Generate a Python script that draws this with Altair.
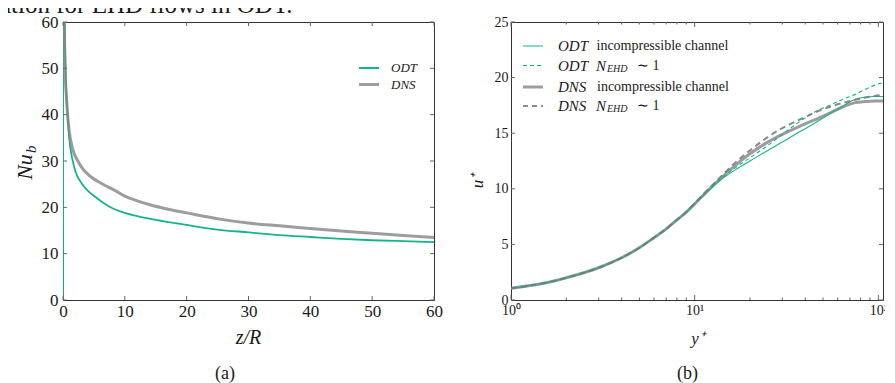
import altair as alt
import pandas as pd

FONT = "Liberation Serif"
GREEN = "#15b48e"
GRAY = "#858585"
TICK = "#666666"
LAB = "#1a1a1a"

# ---------------- panel (a): Nu_b vs z/R ----------------
z_odt = [0, 0.05, 0.3, 0.5, 0.7, 1.0, 1.5, 2, 3, 4, 5, 6.5, 8, 10, 12, 15, 20, 25, 30, 35, 40, 45, 50, 55, 60]
nu_odt = [0, 90, 58, 46, 41, 35, 30.5, 27.8, 25.2, 23.6, 22.5, 21.0, 19.8, 18.8, 18.1, 17.3, 16.2, 15.2, 14.6, 14.0, 13.6, 13.2, 12.9, 12.7, 12.5]
z_dns = [0.12, 0.25, 0.37, 0.5, 0.76, 1.0, 1.56, 2.4, 3.2, 4.5, 6.3, 8.6, 10, 12, 14.2, 17, 20, 25.6, 30, 35, 38.5, 45, 50, 55, 60]
nu_dns = [70, 55, 48.3, 45, 39.7, 36.5, 32.6, 30, 28.3, 26.6, 25.1, 23.5, 22.4, 21.4, 20.5, 19.6, 18.8, 17.4, 16.6, 16.0, 15.6, 14.9, 14.4, 13.9, 13.5]
z_ticks = [0, 10, 20, 30, 40, 50, 60]
nu_ticks = [0, 10, 20, 30, 40, 50, 60]

# ---------------- panel (b): u+ vs y+ ----------------
yp = [1, 1.5, 2, 3, 4, 5, 6, 7, 8, 9, 10, 12, 14, 17, 20, 25, 30, 37, 45, 55, 65, 75, 85, 95, 106]
u_odt_inc = [1.05, 1.5, 2.0, 2.9, 3.8, 4.7, 5.6, 6.4, 7.2, 7.9, 8.65, 9.9, 10.85, 11.8, 12.5, 13.45, 14.2, 15.1, 15.9, 16.8, 17.5, 18.05, 18.25, 18.3, 18.3]
u_odt_ehd = [1.05, 1.5, 2.0, 2.9, 3.8, 4.7, 5.6, 6.4, 7.2, 7.9, 8.65, 9.95, 10.95, 12.0, 12.8, 13.9, 14.9, 16.0, 16.9, 17.55, 18.1, 18.5, 18.95, 19.3, 19.55]
u_dns_inc = [1.05, 1.5, 2.0, 2.9, 3.8, 4.7, 5.6, 6.4, 7.2, 7.9, 8.65, 9.95, 11.0, 12.25, 13.15, 14.2, 14.9, 15.6, 16.2, 16.85, 17.4, 17.75, 17.85, 17.9, 17.9]
u_dns_ehd = [1.05, 1.5, 2.0, 2.9, 3.8, 4.7, 5.6, 6.4, 7.2, 7.9, 8.7, 10.05, 11.15, 12.5, 13.45, 14.65, 15.45, 16.2, 16.85, 17.4, 17.75, 18.0, 18.2, 18.35, 18.45]
u_ticks = [0, 5, 10, 15, 20, 25]
yp_major = [1, 10, 100]
yp_minor = [2, 3, 4, 5, 6, 7, 8, 9, 20, 30, 40, 50, 60, 70, 80, 90]

WA, WB, H = 371, 372, 278


def txt(s, x, y, size, style="normal", angle=0, align="left", baseline="alphabetic", color=LAB):
    kw = dict(font=FONT, fontSize=size, fontStyle=style, align=align, baseline=baseline, color=color)
    if angle:
        kw["angle"] = angle
    return alt.Chart(pd.DataFrame({"t": [s]})).mark_text(**kw).encode(
        x=alt.value(x), y=alt.value(y), text="t:N")


def seg(x1, x2, y, color, width, dash=None, opacity=1.0):
    kw = dict(color=color, strokeWidth=width, opacity=opacity)
    if dash:
        kw["strokeDash"] = dash
    return alt.Chart(pd.DataFrame({"k": [0]})).mark_rule(**kw).encode(
        x=alt.value(x1), x2=alt.value(x2), y=alt.value(y))


def axis(values, size, pad, **extra):
    return alt.Axis(values=values, title=None, grid=False, domain=False, ticks=False,
                    labelFont=FONT, labelFontSize=size, labelColor=LAB, labelPadding=pad,
                    labelFlush=False, labelBound=False, **extra)


# ---------- panel (a) ----------
xa = alt.X("x:Q", scale=alt.Scale(domain=[0, 60], nice=False, zero=False), axis=axis(z_ticks, 17, 3, format="d"))
ya = alt.Y("y:Q", scale=alt.Scale(domain=[0, 60], nice=False, zero=False), axis=axis(nu_ticks, 17, 5, format="d"))

odt_df = pd.DataFrame({"x": z_odt, "y": nu_odt, "i": range(len(z_odt))})
dns_df = pd.DataFrame({"x": z_dns, "y": nu_dns, "i": range(len(z_dns))})

a_layers = [
    alt.Chart(odt_df).mark_line(color=GREEN, strokeWidth=1.8, clip=True, interpolate="monotone").encode(x=xa, y=ya, order="i:Q"),
    alt.Chart(dns_df).mark_line(color=GRAY, strokeWidth=3, opacity=0.8, clip=True, interpolate="monotone").encode(x=xa, y=ya, order="i:Q"),
    alt.Chart(pd.DataFrame({"x": z_ticks})).mark_rule(color=TICK, strokeWidth=1).encode(x=xa, y=alt.value(H), y2=alt.value(H - 4)),
    alt.Chart(pd.DataFrame({"x": z_ticks})).mark_rule(color=TICK, strokeWidth=1).encode(x=xa, y=alt.value(0), y2=alt.value(4)),
    alt.Chart(pd.DataFrame({"y": nu_ticks})).mark_rule(color=TICK, strokeWidth=1).encode(y=ya, x=alt.value(0), x2=alt.value(4)),
    alt.Chart(pd.DataFrame({"y": nu_ticks})).mark_rule(color=TICK, strokeWidth=1).encode(y=ya, x=alt.value(WA), x2=alt.value(WA - 4)),
    # legend
    seg(296, 316, 46, GREEN, 2),
    seg(296, 316, 62.5, GRAY, 3, opacity=0.8),
    txt("ODT", 328, 46, 13, "italic", baseline="middle"),
    txt("DNS", 328, 62.5, 13, "italic", baseline="middle"),
    # titles / captions
    txt("Nu", -31, 145, 22, "italic", angle=270, align="center"),
    txt("b", -27, 131, 15, "italic", angle=270, align="left"),
    txt("z/R", 185.5, 322, 20, "italic", align="center"),
    txt("(a)", 162, 357, 18, align="center"),
    txt("ation for EHD flows in ODT.", -63, -9.5, 25, align="left"),
]
panel_a = alt.layer(*a_layers).properties(width=WA, height=H)

# ---------- panel (b) ----------
xb = alt.X("x:Q", scale=alt.Scale(type="log", domain=[1, 106], nice=False),
           axis=axis(yp_major, 14, 3,
                     labelExpr="datum.value == 1 ? '10\u2070' : datum.value == 10 ? '10\u00b9' : '10\u00b2'"))
yb = alt.Y("y:Q", scale=alt.Scale(domain=[0, 25], nice=False, zero=False), axis=axis(u_ticks, 14, 3, format="d"))


def curve(vals):
    return pd.DataFrame({"x": yp, "y": vals, "i": range(len(yp))})


b_layers = [
    alt.Chart(curve(u_dns_inc)).mark_line(color=GRAY, strokeWidth=3, opacity=0.8, clip=True, interpolate="monotone").encode(x=xb, y=yb, order="i:Q"),
    alt.Chart(curve(u_odt_inc)).mark_line(color=GREEN, strokeWidth=1.1, clip=True, interpolate="monotone").encode(x=xb, y=yb, order="i:Q"),
    alt.Chart(curve(u_odt_ehd)).mark_line(color=GREEN, strokeWidth=1.1, strokeDash=[4, 3], clip=True, interpolate="monotone").encode(x=xb, y=yb, order="i:Q"),
    alt.Chart(curve(u_dns_ehd)).mark_line(color="#777777", strokeWidth=2, strokeDash=[6, 4], opacity=0.85, clip=True, interpolate="monotone").encode(x=xb, y=yb, order="i:Q"),
    alt.Chart(pd.DataFrame({"x": yp_major})).mark_rule(color=TICK).encode(x=xb, y=alt.value(H), y2=alt.value(H - 5)),
    alt.Chart(pd.DataFrame({"x": yp_major})).mark_rule(color=TICK).encode(x=xb, y=alt.value(0), y2=alt.value(5)),
    alt.Chart(pd.DataFrame({"x": yp_minor})).mark_rule(color=TICK).encode(x=xb, y=alt.value(H), y2=alt.value(H - 2.5)),
    alt.Chart(pd.DataFrame({"x": yp_minor})).mark_rule(color=TICK).encode(x=xb, y=alt.value(0), y2=alt.value(2.5)),
    alt.Chart(pd.DataFrame({"y": u_ticks})).mark_rule(color=TICK).encode(y=yb, x=alt.value(0), x2=alt.value(4)),
    alt.Chart(pd.DataFrame({"y": u_ticks})).mark_rule(color=TICK).encode(y=yb, x=alt.value(WB), x2=alt.value(WB - 4)),
    # legend
    seg(12, 32, 24, GREEN, 1),
    seg(12, 32, 43.5, GREEN, 1, dash=[4, 3]),
    seg(12, 32, 65, GRAY, 3, opacity=0.8),
    seg(12, 32, 84, "#777777", 2, dash=[5, 4], opacity=0.85),
    txt("ODT", 47, 24, 15, "italic", baseline="middle"),
    txt("incompressible channel", 85.5, 24, 14, baseline="middle"),
    txt("ODT", 47, 43.5, 15, "italic", baseline="middle"),
    txt("N", 85, 43.5, 15, "italic", baseline="middle"),
    txt("EHD", 96, 46.5, 10, "italic", baseline="middle"),
    txt("\u223c 1", 126, 43.5, 14, baseline="middle"),
    txt("DNS", 47, 65, 15, "italic", baseline="middle"),
    txt("incompressible channel", 86, 65, 14, baseline="middle"),
    txt("DNS", 47, 84, 15, "italic", baseline="middle"),
    txt("N", 85, 84, 15, "italic", baseline="middle"),
    txt("EHD", 96, 87, 10, "italic", baseline="middle"),
    txt("\u223c 1", 126, 84, 14, baseline="middle"),
    # titles / caption
    txt("u\u207a", -28, 159, 17, "italic", angle=270, align="center"),
    txt("y\u207a", 187, 322, 17, "italic", align="center"),
    txt("(b)", 176.5, 357, 18, align="center"),
]
panel_b = alt.layer(*b_layers).properties(width=WB, height=H)

chart = alt.hconcat(panel_a, panel_b, spacing=77, bounds="flush").properties(
    padding={"left": -9, "top": -16, "right": -3, "bottom": 0}
).configure_view(stroke="#333333", strokeWidth=1)

chart.save("out.html", embed_options={"renderer": "svg", "actions": False})
